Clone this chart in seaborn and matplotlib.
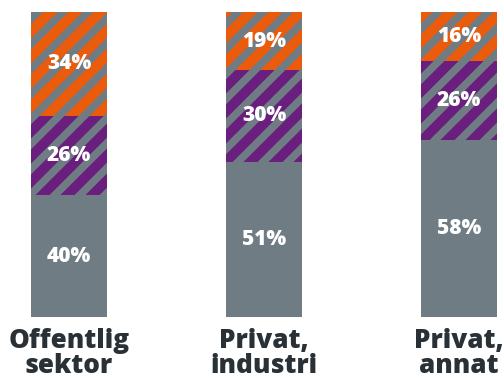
import matplotlib
matplotlib.use("Agg")
import matplotlib.pyplot as plt
from matplotlib.backend_bases import GraphicsContextBase
import numpy as np
import pandas as pd
import seaborn as sns

# Data
categories = ["Offentlig\nsektor", "Privat,\nindustri", "Privat,\nannat"]
base_share = [40, 51, 58]      # grey, bottom segment
middle_share = [26, 30, 26]    # purple striped segment
top_share = [34, 19, 16]       # orange striped segment

GREY = "#6F7C84"
PURPLE = "#6A1F7E"
ORANGE = "#EA5B0C"
TEXT = "#2A3136"

# Slightly denser diagonal stripes than matplotlib's default hatch density
_hatch_path = GraphicsContextBase.get_hatch_path
GraphicsContextBase.get_hatch_path = lambda self, density=6.0: _hatch_path(self, density=8.0)

sns.set_theme(style="white")
plt.rcParams["font.family"] = ["Open Sans", "DejaVu Sans"]
plt.rcParams["hatch.linewidth"] = 5.5
plt.rcParams["hatch.color"] = GREY

fig = plt.figure(figsize=(5.04, 3.78), dpi=100)
ax = fig.add_axes([0, 0.161, 1, 0.807])

df = pd.DataFrame({
    "cat": categories,
    "base": base_share,
    "middle": middle_share,
    "top": top_share,
})
df["b1"] = df["base"]
df["b2"] = df["base"] + df["middle"]

width = 0.39
sns.barplot(data=df, x="cat", y="base", color=GREY, width=width,
            saturation=1, linewidth=0, ax=ax)
sns.barplot(data=df, x="cat", y="middle", bottom=df["b1"].values, color=PURPLE,
            width=width, saturation=1, edgecolor=GREY, linewidth=0,
            hatch="/", ax=ax)
sns.barplot(data=df, x="cat", y="top", bottom=df["b2"].values, color=ORANGE,
            width=width, saturation=1, edgecolor=GREY, linewidth=0,
            hatch="/", ax=ax)

# Segment labels
for i in range(len(categories)):
    segs = [(0, base_share[i]),
            (base_share[i], middle_share[i]),
            (base_share[i] + middle_share[i], top_share[i])]
    for start, val in segs:
        ax.text(i, start + val / 2, f"{val}%", ha="center", va="center",
                color="white", fontsize=15, fontweight="heavy")

ax.set_xlim(-0.3538, 2.2308)
ax.set_ylim(0, 100)
ax.set_xlabel("")
ax.set_ylabel("")
ax.set_yticks([])
ax.tick_params(axis="x", length=0, pad=8)
for lbl in ax.get_xticklabels():
    lbl.set_fontsize(18.8)
    lbl.set_fontweight("heavy")
    lbl.set_color(TEXT)
    lbl.set_linespacing(0.95)
for s in ax.spines.values():
    s.set_visible(False)
ax.set_facecolor("white")

fig.savefig("out.png", dpi=100, facecolor="white")
